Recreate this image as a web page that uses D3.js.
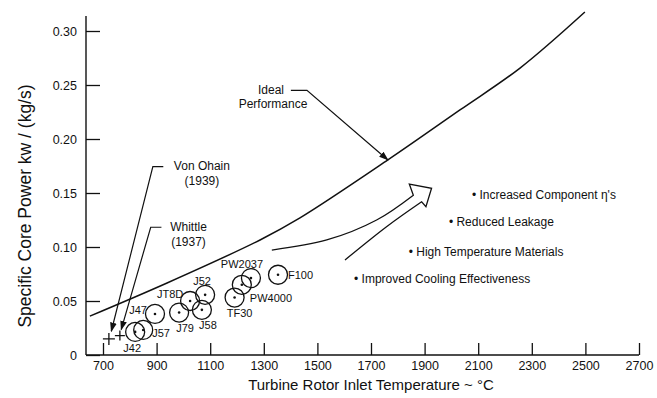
<!DOCTYPE html>
<html>
<head>
<meta charset="utf-8">
<script src="https://cdn.jsdelivr.net/npm/d3@7"></script>
<style>
  body { margin: 0; background: #fff; }
  text { font-family: "Liberation Sans", Arial, sans-serif; fill: #111; }
</style>
</head>
<body>
<div class="chart-area"></div>
<script>
// tick values and labels
var xTicks = [700, 900, 1100, 1300, 1500, 1700, 1900, 2100, 2300, 2500, 2700];
var yTicks = [0, 0.05, 0.10, 0.15, 0.20, 0.25, 0.30];
var yTickLabels = ["0", "0.05", "0.10", "0.15", "0.20", "0.25", "0.30"];

// ideal performance curve (temperature, power)
var idealTemps = [651, 939, 1286, 1435, 1763, 2032, 2256, 2498];
var idealPowers = [0.036, 0.0667, 0.1065, 0.1269, 0.1806, 0.2269, 0.2657, 0.3176];

// engines
var engineNames = ["J42", "J57", "J47", "J79", "JT8D", "J58", "J52", "TF30", "PW4000", "PW2037", "F100"];
var engineTemps = [820, 850, 894, 984, 1025, 1069, 1081, 1191, 1218, 1252, 1353];
var enginePowers = [0.0214, 0.0232, 0.038, 0.0393, 0.050, 0.0418, 0.0557, 0.0532, 0.065, 0.0712, 0.0743];

// first engines (plus markers)
var firstNames = ["Von Ohain", "Whittle"];
var firstYears = ["(1939)", "(1937)"];
var firstTemps = [722, 763];
var firstPowers = [0.0149, 0.018];

// improvement list
var improvements = ["Increased Component \u03b7's", "Reduced Leakage", "High Temperature Materials", "Improved Cooling Effectiveness"];

var width = 657,
    height = 398;

var x = d3.scaleLinear().domain([700, 2700]).range([103, 639]);
var y = d3.scaleLinear().domain([0, 0.30]).range([355, 31]);

var svg = d3.select(".chart-area")
    .append("svg")
    .attr("width", width)
    .attr("height", height);

// label offsets for the engine names (pixels from the circle centre)
var engineLabelPos = {
    "J42": [-3, 16, "middle"], "J57": [9, 3, "start"], "J47": [-8, -4, "end"],
    "J79": [6, 16, "middle"], "JT8D": [-20, -7, "middle"], "J58": [6, 15, "middle"],
    "J52": [-3, -14, "middle"], "TF30": [5, 16, "middle"], "PW4000": [8, 13, "start"],
    "PW2037": [-9, -14, "middle"], "F100": [10, 0, "start"]
};

// axes
var xAxis = d3.axisBottom(x).tickValues(xTicks).tickFormat(d3.format("d"))
    .tickSizeInner(-12).tickSizeOuter(0).tickPadding(6);
var gx = svg.append("g").attr("transform", "translate(0,355)").call(xAxis);
gx.select(".domain").remove();
gx.append("line").attr("x1", 86).attr("x2", 639).attr("y1", 0).attr("y2", 0)
    .attr("stroke", "#111").attr("stroke-width", 1.4);

var yAxis = d3.axisLeft(y).tickValues(yTicks).tickFormat(function(d, i) { return yTickLabels[i]; })
    .tickSizeInner(-14).tickSizeOuter(0).tickPadding(9);
var gy = svg.append("g").attr("transform", "translate(86,0)").call(yAxis);
gy.select(".domain").remove();
gy.append("line").attr("x1", 0).attr("x2", 0).attr("y1", 16).attr("y2", 355)
    .attr("stroke", "#111").attr("stroke-width", 1.4);

svg.selectAll(".tick line").attr("stroke", "#111").attr("stroke-width", 1.3);
svg.selectAll(".tick text").attr("font-size", "12.5px").attr("fill", "#111")
    .style("font-family", "Liberation Sans, Arial, sans-serif");

// axis titles
svg.append("text")
    .attr("x", 371).attr("y", 390)
    .attr("text-anchor", "middle").attr("font-size", "15px")
    .text("Turbine Rotor Inlet Temperature ~ \u00b0C");

svg.append("text")
    .attr("transform", "translate(31,206) rotate(-90)")
    .attr("text-anchor", "middle").attr("font-size", "17.5px")
    .text("Specific Core Power kw / (kg/s)");

// arrow marker
svg.append("defs").append("marker")
    .attr("id", "head").attr("viewBox", "0 0 10 10")
    .attr("refX", 9).attr("refY", 5)
    .attr("markerWidth", 8).attr("markerHeight", 8)
    .attr("orient", "auto")
    .append("path").attr("d", "M0,1.5 L10,5 L0,8.5 Z").attr("fill", "#111");

// ideal performance curve
var line = d3.line().curve(d3.curveCatmullRom);
svg.append("path")
    .attr("d", line(idealTemps.map(function(t, i) { return [x(t), y(idealPowers[i])]; })))
    .attr("fill", "none").attr("stroke", "#111").attr("stroke-width", 1.5);

// "Ideal Performance" note
svg.append("text").attr("x", 271).attr("y", 90).attr("dy", "0.35em")
    .attr("text-anchor", "middle").attr("font-size", "12px").text("Ideal");
svg.append("text").attr("x", 273).attr("y", 104).attr("dy", "0.35em")
    .attr("text-anchor", "middle").attr("font-size", "12px").text("Performance");
svg.append("path")
    .attr("d", "M" + x(1401) + "," + y(0.245) + "H" + x(1461) + "L" + x(1763) + "," + y(0.1806))
    .attr("fill", "none").attr("stroke", "#111").attr("stroke-width", 1.2)
    .attr("marker-end", "url(#head)");

// Von Ohain & Whittle
var firstLayout = [
    {text: [1069, 0.1755], elbow: [886, 0.1745], bar: [925, 0.1745], tip: [731, 0.022]},
    {text: [1019, 0.119], elbow: [878, 0.1183], bar: [918, 0.1183], tip: [768, 0.0235]}
];
firstNames.forEach(function(name, i) {
    var L = firstLayout[i];
    svg.append("path")
        .attr("d", "M" + x(L.bar[0]) + "," + y(L.bar[1]) + "H" + x(L.elbow[0]) +
            "L" + x(L.tip[0]) + "," + y(L.tip[1]))
        .attr("fill", "none").attr("stroke", "#111").attr("stroke-width", 1.2)
        .attr("marker-end", "url(#head)");
    svg.append("text").attr("x", x(L.text[0])).attr("y", y(L.text[1])).attr("dy", "0.35em")
        .attr("text-anchor", "middle").attr("font-size", "12px").text(name);
    svg.append("text").attr("x", x(L.text[0])).attr("y", y(L.text[1]) + 15.5).attr("dy", "0.35em")
        .attr("text-anchor", "middle").attr("font-size", "12px").text(firstYears[i]);
    var px = x(firstTemps[i]), py = y(firstPowers[i]), s = i === 0 ? 6 : 5;
    svg.append("path")
        .attr("d", "M" + (px - s) + "," + py + "H" + (px + s) + "M" + px + "," + (py - s) + "V" + (py + s))
        .attr("stroke", "#111").attr("stroke-width", 1.3);
});

// engines
var eng = svg.selectAll(".engine")
    .data(engineNames)
    .enter().append("g")
    .attr("class", "engine")
    .attr("transform", function(d, i) { return "translate(" + x(engineTemps[i]) + "," + y(enginePowers[i]) + ")"; });
eng.append("circle").attr("r", 9.5).attr("fill", "none").attr("stroke", "#111").attr("stroke-width", 1.3);
eng.append("circle").attr("r", 1.3).attr("fill", "#111");
eng.append("text")
    .attr("x", function(d) { return engineLabelPos[d][0]; })
    .attr("y", function(d) { return engineLabelPos[d][1]; })
    .attr("dy", "0.35em")
    .attr("text-anchor", function(d) { return engineLabelPos[d][2]; })
    .attr("font-size", "11px")
    .text(function(d) { return d; });

// big hollow arrow of improvement
var arrowUpper = [[1330, 0.0972], [1535, 0.1065], [1721, 0.125], [1858, 0.148]];
var arrowHead = [[1858, 0.148], [1843, 0.1583], [1926, 0.1544], [1905, 0.1373], [1889, 0.1419]];
var arrowLower = [[1889, 0.1419], [1758, 0.1188], [1603, 0.088]];
var smooth = d3.line().curve(d3.curveCatmullRom);
var toPx = function(p) { return [x(p[0]), y(p[1])]; };
svg.append("path")
    .attr("d", smooth(arrowUpper.map(toPx)) + d3.line()(arrowHead.map(toPx)).replace("M", "L") +
        smooth(arrowLower.map(toPx)).replace("M", "L"))
    .attr("fill", "none").attr("stroke", "#111").attr("stroke-width", 1.3)
    .attr("stroke-linejoin", "miter");

// improvement list
var impPos = [[2088, 0.148], [2002, 0.1229], [1852, 0.0957], [1648, 0.0704]];
improvements.forEach(function(t, i) {
    svg.append("text")
        .attr("x", x(impPos[i][0]) - 3).attr("y", y(impPos[i][1])).attr("dy", "0.35em")
        .attr("font-size", "12px")
        .text("\u2022 " + t);
});
</script>
</body>
</html>
